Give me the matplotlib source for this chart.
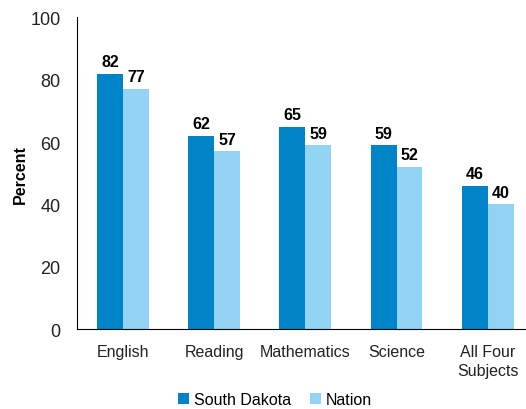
import matplotlib.pyplot as plt
import numpy as np

plt.rcParams['font.family'] = ['Liberation Sans', 'DejaVu Sans']

# donnees
subjects = ["English", "Reading", "Mathematics", "Science", "All Four\nSubjects"]
south_dakota = [82, 62, 65, 59, 46]
nation = [77, 57, 59, 52, 40]

DARK = "#0083c7"
LIGHT = "#93d3f4"

fig = plt.figure(figsize=(5.26, 4.10), dpi=100)
ax = fig.add_axes([0.147, 0.195, 0.853, 0.76])

x = np.arange(len(subjects))
w = 0.285
b1 = ax.bar(x - w/2, south_dakota, w, color=DARK, label="South Dakota")
b2 = ax.bar(x + w/2, nation, w, color=LIGHT, label="Nation")

for bars in (b1, b2):
    for r in bars:
        ax.text(r.get_x() + r.get_width()/2, r.get_height() + 1.5, str(int(r.get_height())),
                ha="center", va="bottom", fontsize=11.5, fontweight="bold")

ax.set_ylim(0, 100)
ax.set_xlim(-0.5, 4.42)
ax.set_yticks([0, 20, 40, 60, 80, 100])
ax.set_xticks(x)
ax.set_xticklabels(subjects, linespacing=1.3)
ax.tick_params(length=0, colors="#222222")
ax.tick_params(axis="x", pad=11, labelsize=11.5)
ax.tick_params(axis="y", pad=12, labelsize=13)
ax.spines["top"].set_visible(False)
ax.spines["right"].set_visible(False)
ax.set_ylabel("Percent", fontsize=11.5, fontweight="bold", labelpad=2)

ax.legend(loc="lower center", bbox_to_anchor=(0.44, -0.255), ncol=2, frameon=False,
          fontsize=11.5, handlelength=0.7, handleheight=0.7, handletextpad=0.3,
          columnspacing=1.2, borderaxespad=0, borderpad=0.1)

plt.savefig("out.png")
